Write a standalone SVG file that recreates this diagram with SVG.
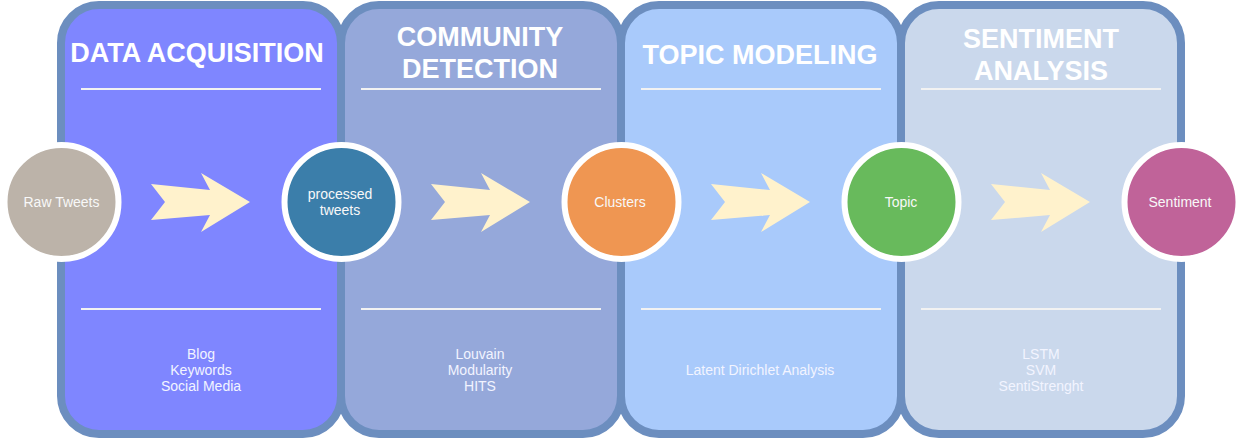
<svg xmlns="http://www.w3.org/2000/svg" width="1241" height="438" viewBox="0 0 1241 438">
  <style>
    .panel { stroke: #6c8ebf; stroke-width: 8; }
    .rule { stroke: #f2f2f2; stroke-width: 2; }
    .title { font-family: "Liberation Sans", Arial, sans-serif; font-weight: bold; font-size: 27px; fill: #ffffff; text-anchor: middle; }
    .note { font-family: "Liberation Sans", Arial, sans-serif; font-size: 14px; fill: #f2f4ff; text-anchor: middle; }
    .node { stroke: #ffffff; stroke-width: 6; }
    .label { font-family: "Liberation Sans", Arial, sans-serif; font-size: 14px; fill: #f8f8f8; text-anchor: middle; }
    .arrow { fill: #fff2cc; }
  </style>
  <defs>
    <polygon id="chevron" class="arrow" points="151,184 210,190 201,173 250,202 201,232 210,215 151,220 165,202"/>
  </defs>

  <!-- stage panels -->
  <g id="stage-acquisition">
    <rect class="panel" x="61" y="5" width="280" height="429" rx="38" fill="#7f86ff"/>
    <text class="title" x="197" y="62">DATA ACQUISITION</text>
    <line class="rule" x1="81" y1="89" x2="321" y2="89"/>
    <line class="rule" x1="81" y1="309" x2="321" y2="309"/>
    <text class="note" x="201" y="359">Blog</text>
    <text class="note" x="201" y="375">Keywords</text>
    <text class="note" x="201" y="391">Social Media</text>
  </g>
  <g id="stage-community">
    <rect class="panel" x="341" y="5" width="280" height="429" rx="38" fill="#95a8da"/>
    <text class="title" x="480" y="46">COMMUNITY</text>
    <text class="title" x="480" y="78">DETECTION</text>
    <line class="rule" x1="361" y1="89" x2="601" y2="89"/>
    <line class="rule" x1="361" y1="309" x2="601" y2="309"/>
    <text class="note" x="480" y="359">Louvain</text>
    <text class="note" x="480" y="375">Modularity</text>
    <text class="note" x="480" y="391">HITS</text>
  </g>
  <g id="stage-topic">
    <rect class="panel" x="621" y="5" width="280" height="429" rx="38" fill="#a9cafb"/>
    <text class="title" x="760" y="64">TOPIC MODELING</text>
    <line class="rule" x1="641" y1="89" x2="881" y2="89"/>
    <line class="rule" x1="641" y1="309" x2="881" y2="309"/>
    <text class="note" x="760" y="375">Latent Dirichlet Analysis</text>
  </g>
  <g id="stage-sentiment">
    <rect class="panel" x="901" y="5" width="280" height="429" rx="38" fill="#cad8ec"/>
    <text class="title" x="1041" y="48">SENTIMENT</text>
    <text class="title" x="1041" y="80">ANALYSIS</text>
    <line class="rule" x1="921" y1="89" x2="1161" y2="89"/>
    <line class="rule" x1="921" y1="309" x2="1161" y2="309"/>
    <text class="note" x="1041" y="359">LSTM</text>
    <text class="note" x="1041" y="375">SVM</text>
    <text class="note" x="1041" y="391">SentiStrenght</text>
  </g>

  <!-- connectors -->
  <g id="connectors">
    <use href="#chevron"/>
    <use href="#chevron" transform="translate(280 0)"/>
    <use href="#chevron" transform="translate(560 0)"/>
    <use href="#chevron" transform="translate(840 0)"/>
  </g>

  <!-- data nodes -->
  <g id="node-raw-tweets">
    <circle class="node" cx="61.5" cy="202" r="57" fill="#bcb3a9"/>
    <text class="label" x="61.5" y="207">Raw Tweets</text>
  </g>
  <g id="node-processed-tweets">
    <circle class="node" cx="341.5" cy="202" r="57" fill="#3b7eaa"/>
    <text class="label" x="340" y="199">processed</text>
    <text class="label" x="340" y="215">tweets</text>
  </g>
  <g id="node-clusters">
    <circle class="node" cx="621.5" cy="202" r="57" fill="#ef9652"/>
    <text class="label" x="620" y="207">Clusters</text>
  </g>
  <g id="node-topic">
    <circle class="node" cx="901.5" cy="202" r="57" fill="#68ba5c"/>
    <text class="label" x="901" y="207">Topic</text>
  </g>
  <g id="node-sentiment">
    <circle class="node" cx="1181.5" cy="202" r="57" fill="#c06399"/>
    <text class="label" x="1180" y="207">Sentiment</text>
  </g>
</svg>
